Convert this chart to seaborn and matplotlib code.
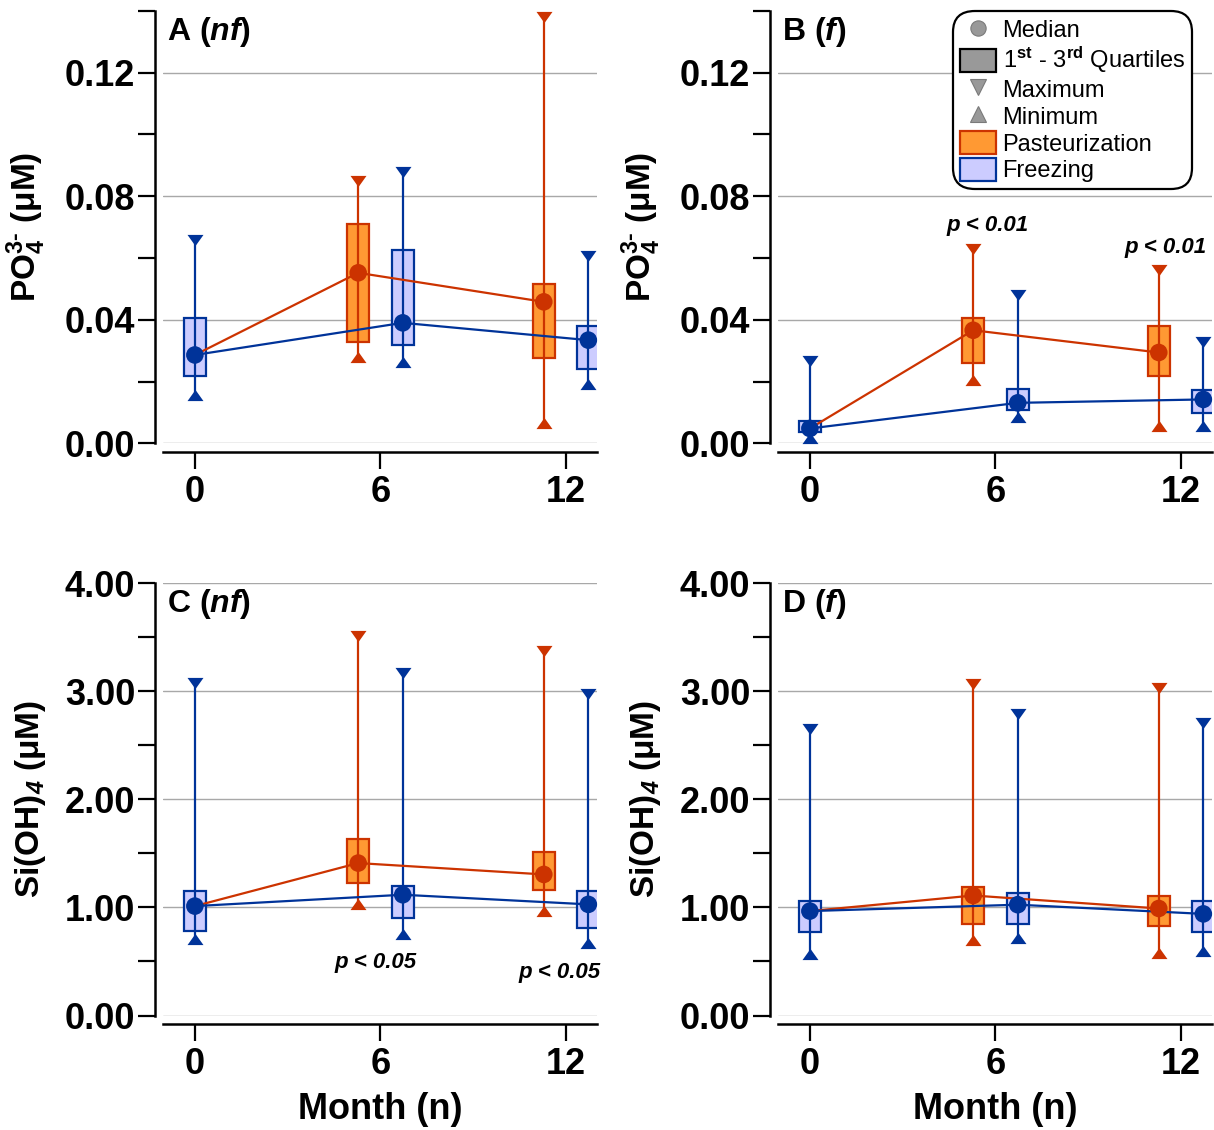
import matplotlib
matplotlib.use("Agg")
import numpy as np
import pandas as pd
import matplotlib.pyplot as plt
import seaborn as sns
from matplotlib.lines import Line2D
from matplotlib.patches import Patch
from matplotlib.ticker import MultipleLocator, FormatStrFormatter

# ---------------- data: [minimum, q1, median, q3, maximum] ----------------
months = [0, 6, 12]
treatments = ["Pasteurization", "Freezing"]

# Panel A  PO4 (nf)
A_month0 = [0.0156, 0.0219, 0.0286, 0.0406, 0.0657]
A_past_m6 = [0.0280, 0.0329, 0.0552, 0.0709, 0.0848]
A_past_m12 = [0.0065, 0.0275, 0.0458, 0.0517, 0.1380]
A_frz_m6 = [0.0263, 0.0318, 0.0390, 0.0627, 0.0877]
A_frz_m12 = [0.0191, 0.0239, 0.0334, 0.0380, 0.0608]

# Panel B  PO4 (f)
B_month0 = [0.0016, 0.0038, 0.0048, 0.0073, 0.0267]
B_past_m6 = [0.0204, 0.0259, 0.0366, 0.0407, 0.0628]
B_past_m12 = [0.0057, 0.0219, 0.0294, 0.0380, 0.0560]
B_frz_m6 = [0.0086, 0.0108, 0.0131, 0.0176, 0.0480]
B_frz_m12 = [0.0056, 0.0097, 0.0142, 0.0172, 0.0327]

# Panel C  Si(OH)4 (nf)
C_month0 = [0.71, 0.78, 1.012, 1.151, 3.08]
C_past_m6 = [1.034, 1.225, 1.41, 1.636, 3.51]
C_past_m12 = [0.966, 1.164, 1.305, 1.512, 3.37]
C_frz_m6 = [0.756, 0.905, 1.117, 1.197, 3.164]
C_frz_m12 = [0.669, 0.812, 1.028, 1.148, 2.97]

# Panel D  Si(OH)4 (f)
D_month0 = [0.57, 0.77, 0.966, 1.06, 2.65]
D_past_m6 = [0.70, 0.85, 1.11, 1.19, 3.07]
D_past_m12 = [0.58, 0.83, 0.99, 1.105, 3.03]
D_frz_m6 = [0.72, 0.85, 1.025, 1.135, 2.79]
D_frz_m12 = [0.595, 0.77, 0.94, 1.06, 2.71]

stat_cols = ["vmin", "q1", "median", "q3", "vmax"]

# ---------------- style ----------------
sns.set_style("ticks")
plt.rcParams.update({
    "font.family": ["Liberation Sans", "DejaVu Sans"],
    "font.weight": "bold",
    "mathtext.fontset": "custom",
    "mathtext.rm": "Liberation Sans",
    "mathtext.it": "Liberation Sans:italic",
    "mathtext.bf": "Liberation Sans:bold",
    "mathtext.bfit": "Liberation Sans:italic:bold",
    "axes.edgecolor": "black",
    "axes.labelcolor": "black",
    "xtick.color": "black",
    "ytick.color": "black",
    "text.color": "black",
})

EDGE = {"Pasteurization": "#CC3300", "Freezing": "#003399"}
FILL = {"Pasteurization": "#FF9933", "Freezing": "#CCCCFF"}
OFFSET = {"Pasteurization": -0.72, "Freezing": 0.72}
BOX_W = 0.72
LW = 1.6
TRI_DOWN = [(-1, 0.7), (1, 0.7), (0, -0.7)]
TRI_UP = [(-1, -0.7), (1, -0.7), (0, 0.7)]


def build_frames(m0, past6, past12, frz6, frz12):
    rows = [("Freezing", 0, *m0),
            ("Pasteurization", 6, *past6), ("Pasteurization", 12, *past12),
            ("Freezing", 6, *frz6), ("Freezing", 12, *frz12)]
    box = pd.DataFrame(rows, columns=["treatment", "month"] + stat_cols)
    box["pos"] = [m + (OFFSET[t] if m > 0 else 0.0) for t, m in zip(box.treatment, box.month)]
    # median lines: both treatments start from the shared month-0 sample
    line_rows = []
    for t in treatments:
        line_rows.append((t, 0.0, m0[2]))
        sub = box[(box.treatment == t) & (box.month > 0)]
        for _, r in sub.iterrows():
            line_rows.append((t, r.pos, r["median"]))
    line = pd.DataFrame(line_rows, columns=["treatment", "pos", "median"])
    return box, line


def draw_panel(ax, data, ymax, major, minor, ylabel, title):
    box, line = data
    for _, r in box.iterrows():
        t = r.treatment
        ax.bar(r.pos, r.q3 - r.q1, bottom=r.q1, width=BOX_W, color=FILL[t],
               edgecolor=EDGE[t], linewidth=LW, zorder=2)
        ax.vlines(r.pos, r.vmin, r.vmax, color=EDGE[t], lw=LW, zorder=3)
        ax.plot([r.pos], [r.vmax], ls="", marker=TRI_DOWN, ms=11.5, color=EDGE[t],
                mew=0, clip_on=False, zorder=6)
        ax.plot([r.pos], [r.vmin], ls="", marker=TRI_UP, ms=11.5, color=EDGE[t],
                mew=0, clip_on=False, zorder=6)
    sns.lineplot(data=line, x="pos", y="median", hue="treatment", palette=EDGE,
                 hue_order=treatments, linewidth=LW, legend=False, ax=ax,
                 errorbar=None, zorder=4)
    pts = box.sort_values("month", ascending=False)
    sns.scatterplot(data=pts, x="pos", y="median", hue="treatment", palette=EDGE,
                    s=160, linewidth=0, legend=False, ax=ax, zorder=5, clip_on=False)

    ax.set_xlim(-1.03, 13.0)
    ax.set_ylim(0, ymax)
    ax.yaxis.set_major_locator(MultipleLocator(major))
    ax.yaxis.set_minor_locator(MultipleLocator(minor))
    ax.yaxis.set_major_formatter(FormatStrFormatter("%.2f"))
    ax.set_xticks(months)
    ax.set_xticklabels([str(m) for m in months])
    ax.tick_params(axis="both", which="both", direction="out", length=12, width=1.6)
    ax.tick_params(axis="y", labelsize=26, pad=2)
    ax.tick_params(axis="x", labelsize=26, pad=5)
    ax.yaxis.grid(True, which="major", color="#A8A8A8", lw=1.0)
    ax.xaxis.grid(False)
    ax.set_axisbelow(True)
    sns.despine(ax=ax, offset=6)
    for s in ["left", "bottom"]:
        ax.spines[s].set_linewidth(1.8)
    ax.set_ylabel(ylabel, fontsize=24, fontweight="bold")
    ax.yaxis.set_label_coords(-0.266, 0.5)
    ax.set_xlabel("")
    ax.text(0.009, 0.99, title, transform=ax.transAxes, fontsize=23,
            fontweight="bold", ha="left", va="top")


W, H = 1214, 1130
fig = plt.figure(figsize=(W / 100, H / 100), dpi=100)


def rect(left_px, zero_px):
    return [left_px / W, 1 - zero_px / H, 434 / W, 432.4 / H]


axA = fig.add_axes(rect(163, 443.3))
axB = fig.add_axes(rect(778, 443.3))
axC = fig.add_axes(rect(163, 1015.5))
axD = fig.add_axes(rect(778, 1015.5))

po4_label = r"PO$_\mathbf{4}^{\mathbf{3}\text{-}}$ (μM)"
si_label = r"Si(OH)$_\mathbfit{4}$ (μM)"

draw_panel(axA, build_frames(A_month0, A_past_m6, A_past_m12, A_frz_m6, A_frz_m12),
           0.14, 0.04, 0.02, po4_label, r"A ($\mathbfit{nf}$)")
draw_panel(axB, build_frames(B_month0, B_past_m6, B_past_m12, B_frz_m6, B_frz_m12),
           0.14, 0.04, 0.02, po4_label, r"B ($\mathbfit{f}$)")
draw_panel(axC, build_frames(C_month0, C_past_m6, C_past_m12, C_frz_m6, C_frz_m12),
           4.0, 1.0, 0.5, si_label, r"C ($\mathbfit{nf}$)")
draw_panel(axD, build_frames(D_month0, D_past_m6, D_past_m12, D_frz_m6, D_frz_m12),
           4.0, 1.0, 0.5, si_label, r"D ($\mathbfit{f}$)")

for ax in (axC, axD):
    ax.set_xlabel("Month (n)", fontsize=26, fontweight="bold")
    ax.xaxis.set_label_coords(0.5, -0.178)

# significance annotations
pfont = dict(fontsize=16, fontweight="bold", fontstyle="italic", ha="center", va="center")
axB.text(5.76, 0.0706, "p < 0.01", **pfont)
axB.text(11.51, 0.0634, "p < 0.01", **pfont)
axC.text(5.85, 0.486, "p < 0.05", **pfont)
axC.text(11.8, 0.40, "p < 0.05", **pfont)

# legend
gray = "#999999"
handles = [
    Line2D([], [], ls="", marker="o", ms=11, mfc=gray, mec="#7a7a7a", mew=0.8, label="Median"),
    Patch(facecolor=gray, edgecolor="black", linewidth=1.6,
          label=r"1$^{\mathrm{st}}$ - 3$^{\mathrm{rd}}$ Quartiles"),
    Line2D([], [], ls="", marker="v", ms=11, mfc=gray, mec="#7a7a7a", mew=0.8, label="Maximum"),
    Line2D([], [], ls="", marker="^", ms=11, mfc=gray, mec="#7a7a7a", mew=0.8, label="Minimum"),
    Patch(facecolor=FILL["Pasteurization"], edgecolor=EDGE["Pasteurization"], linewidth=1.6,
          label="Pasteurization"),
    Patch(facecolor=FILL["Freezing"], edgecolor=EDGE["Freezing"], linewidth=1.6, label="Freezing"),
]
leg = axB.legend(handles=handles, loc="upper right", bbox_to_anchor=(0.954, 1.0),
                 borderaxespad=0, frameon=True, fancybox=True,
                 prop={"size": 17, "weight": "normal"}, handlelength=1.5,
                 handleheight=1.1, handletextpad=0.28, labelspacing=0.1,
                 borderpad=0.3, edgecolor="black", framealpha=1)
leg.get_frame().set_linewidth(1.6)
leg.get_frame().set_boxstyle("round", pad=0, rounding_size=0.9)
leg.set_zorder(10)

fig.savefig("out.png", dpi=100)
